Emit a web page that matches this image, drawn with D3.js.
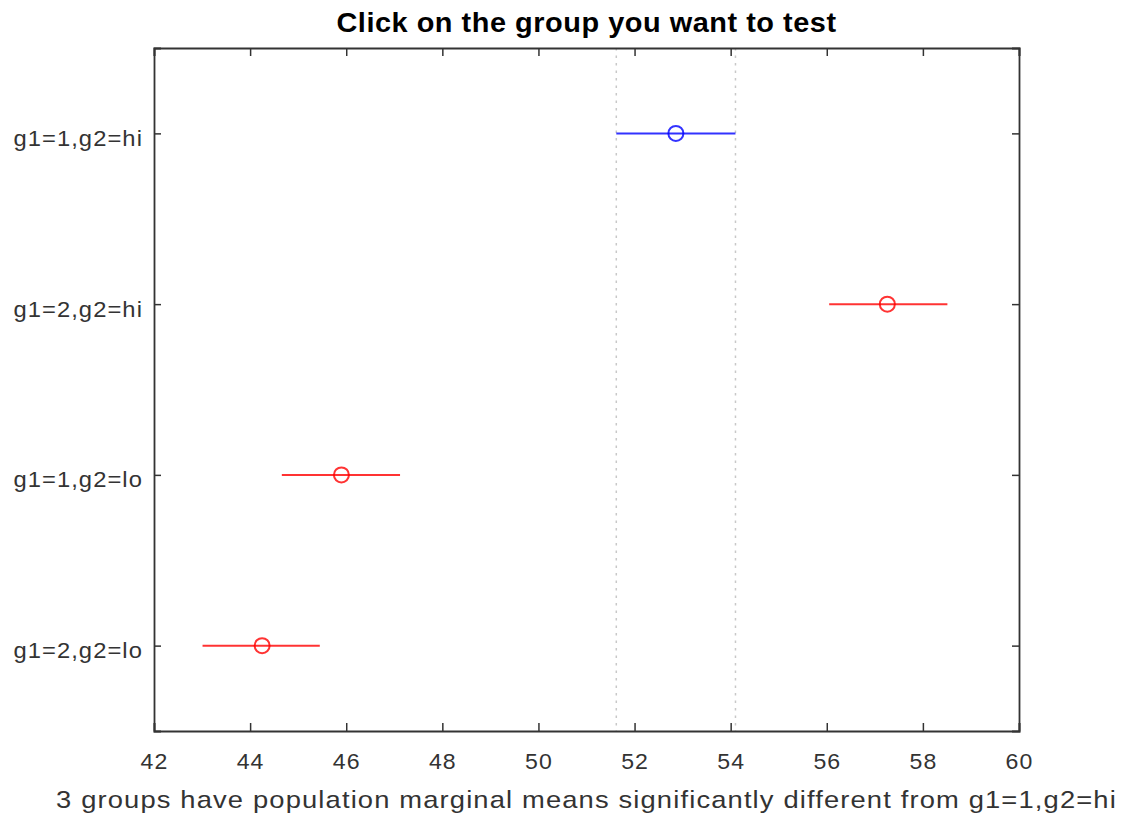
<!DOCTYPE html>
<html>
<head>
<meta charset="utf-8">
<script src="https://cdn.jsdelivr.net/npm/d3@7"></script>
<style>
  body { margin: 0; background: #fff; }
  text { font-family: "Liberation Sans", Arial, sans-serif; }
</style>
</head>
<body>
<div id="chart"></div>
<script>
// group names, top to bottom
var groups = ["g1=1,g2=hi", "g1=2,g2=hi", "g1=1,g2=lo", "g1=2,g2=lo"];
var means = [52.86, 57.26, 45.90, 44.25];
var lower = [51.62, 56.05, 44.66, 43.01];
var upper = [54.10, 58.51, 47.12, 45.45];
var colors = ["blue", "red", "red", "red"];
var xTicks = [42, 44, 46, 48, 50, 52, 54, 56, 58, 60];
var selected = 0;

var svgwidth = 1126, svgheight = 821;
var margin = {top: 48, right: 107, bottom: 90, left: 154},
    width = svgwidth - margin.left - margin.right,
    height = svgheight - margin.top - margin.bottom;

var data = groups.map(function(g, i) {
    return {group: g, mean: means[i], lo: lower[i], hi: upper[i], color: colors[i]};
});

var x = d3.scaleLinear().domain([42, 60]).range([0, width]);
var y = d3.scalePoint().domain(groups).range([0, height]).padding(0.5);

var axisColor = "#333";

// the original text is a bit wider than Liberation Sans, stretch it a little
function stretch(sel, sx) {
    sel.each(function() {
        var t = d3.select(this);
        var tx = +t.attr("x") || 0;
        t.attr("x", tx / sx).attr("transform", "scale(" + sx + ",1)");
    });
}

var svg = d3.select("#chart").append("svg")
    .attr("width", svgwidth)
    .attr("height", svgheight)
  .append("g")
    .attr("transform", "translate(" + margin.left + "," + margin.top + ")");

// dotted lines at the selected group's interval
svg.selectAll(".ref")
    .data([data[selected].lo, data[selected].hi])
  .enter().append("line")
    .attr("class", "ref")
    .attr("x1", function(d) { return x(d); })
    .attr("x2", function(d) { return x(d); })
    .attr("y1", 0)
    .attr("y2", height)
    .style("stroke", "#c8c8c8")
    .style("stroke-width", 1.5)
    .style("stroke-dasharray", "2.5,5");

// axes (ticks inside, mirrored on top and right)
var xAxis = d3.axisBottom(x).tickValues(xTicks).tickSize(-8).tickPadding(22);
var xAxisTop = d3.axisTop(x).tickValues(xTicks).tickSize(-8).tickFormat("");
var yAxis = d3.axisLeft(y).tickSize(-7).tickPadding(11);
var yAxisRight = d3.axisRight(y).tickSize(-7).tickFormat("");

svg.append("g").attr("class", "axis x")
    .attr("transform", "translate(0," + height + ")")
    .call(xAxis);
svg.append("g").attr("class", "axis")
    .call(xAxisTop);
svg.append("g").attr("class", "axis y")
    .call(yAxis);
svg.append("g").attr("class", "axis")
    .attr("transform", "translate(" + width + ",0)")
    .call(yAxisRight);

svg.selectAll(".axis path")
    .style("stroke", axisColor)
    .style("stroke-width", 1.8);
svg.selectAll(".axis line")
    .style("stroke", axisColor)
    .style("stroke-width", 1.5);
svg.selectAll(".axis text")
    .style("fill", axisColor)
    .style("font-size", "22px")
    .style("letter-spacing", "1px");
svg.selectAll(".axis.y text")
    .attr("dy", "0.55em")
    .call(stretch, 1.08);
svg.selectAll(".axis.x text")
    .call(stretch, 1.05);

// interval lines
svg.selectAll(".ci")
    .data(data)
  .enter().append("line")
    .attr("class", "ci")
    .attr("x1", function(d) { return x(d.lo); })
    .attr("x2", function(d) { return x(d.hi); })
    .attr("y1", function(d) { return y(d.group); })
    .attr("y2", function(d) { return y(d.group); })
    .style("stroke", function(d) { return d.color; })
    .style("stroke-width", 2)
    .style("opacity", 0.8);

// means
svg.selectAll(".mean")
    .data(data)
  .enter().append("circle")
    .attr("class", "mean")
    .attr("cx", function(d) { return x(d.mean); })
    .attr("cy", function(d) { return y(d.group); })
    .attr("r", 7.5)
    .style("fill", "none")
    .style("stroke", function(d) { return d.color; })
    .style("stroke-width", 2)
    .style("opacity", 0.8);

// title
svg.append("text")
    .attr("x", width / 2)
    .attr("y", -16)
    .style("text-anchor", "middle")
    .style("font-size", "27px")
    .style("font-weight", "bold")
    .style("letter-spacing", "0.5px")
    .style("fill", "#000")
    .text("Click on the group you want to test")
    .call(stretch, 1.07);

// x label
svg.append("text")
    .attr("x", width / 2)
    .attr("y", height + 77)
    .style("text-anchor", "middle")
    .style("font-size", "24px")
    .style("letter-spacing", "1px")
    .style("fill", axisColor)
    .text("3 groups have population marginal means significantly different from g1=1,g2=hi")
    .call(stretch, 1.14);
</script>
</body>
</html>
